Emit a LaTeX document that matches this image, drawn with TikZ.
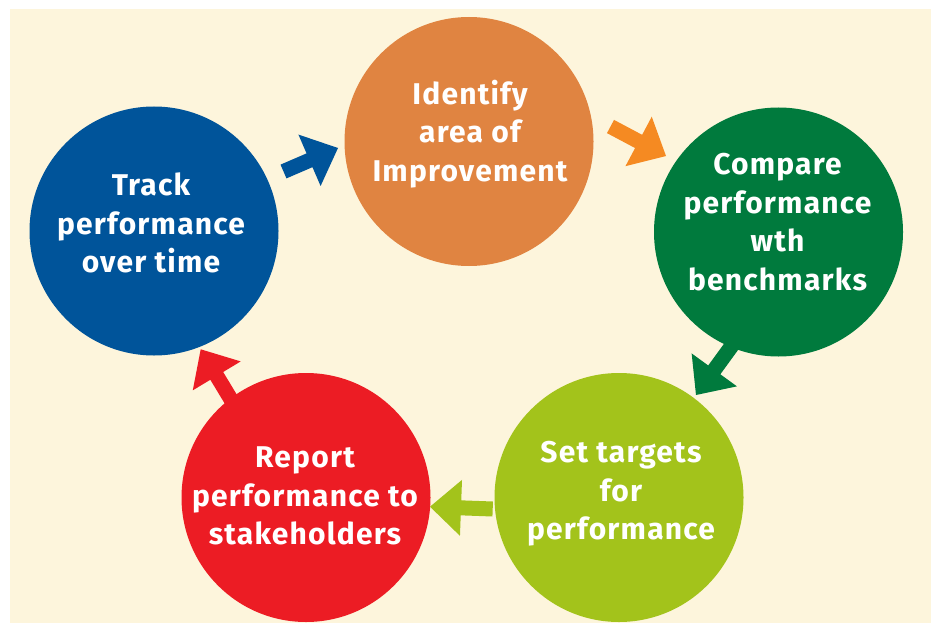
\documentclass[tikz,border=0pt]{standalone}
\usepackage{fontspec}
\newfontfamily\lblfont{Fira Sans}[LetterSpace=4]
\usetikzlibrary{calc}
\definecolor{bgc}{HTML}{FDF5DC}
\definecolor{cblue}{HTML}{00549A}
\definecolor{corange}{HTML}{E08441}
\definecolor{aorange}{HTML}{F58A22}
\definecolor{cgreen}{HTML}{007A3D}
\definecolor{cyg}{HTML}{A3C31B}
\definecolor{cred}{HTML}{EC1C24}
\newcommand\arrW{7.5pt}
\newcommand\arrH{28pt}
\newcommand\blockarr[3]{%
\fill[#1] let \p1=($(#3)-(#2)$), \n1={atan2(\y1,\x1)}, \n2={veclen(\x1,\y1)-31pt} in
 ($(#2)+(\n1-90:\arrW)$) -- ($(#2)+(\n1:\n2)+(\n1-90:\arrW)$) -- ($(#2)+(\n1:\n2)+(\n1-90:\arrH)$) -- (#3) -- ($(#2)+(\n1:\n2)+(\n1+90:\arrH)$) -- ($(#2)+(\n1:\n2)+(\n1+90:\arrW)$) -- ($(#2)+(\n1+90:\arrW)$) -- cycle;}
\tikzset{
  stage/.style={circle, minimum size=249pt, inner sep=0pt, draw=none},
  lbl/.style={text=white, align=center, font=\lblfont\bfseries\fontsize{30}{38.5}\selectfont, inner sep=0pt}
}
\begin{document}
\begin{tikzpicture}[x=1pt,y=-1pt]
\useasboundingbox (0,0) rectangle (931,623);
\fill[bgc] (10,9) rectangle (931,623);
% arrow end points
\coordinate (t1) at (283.5,171.5); \coordinate (h1) at (338,148);
\coordinate (t2) at (610.5,126.5); \coordinate (h2) at (666,156);
\coordinate (t3) at (735,341.4);   \coordinate (h3) at (696,395);
\coordinate (t4) at (492.7,509);   \coordinate (h4) at (430,506.7);
\coordinate (t5) at (232.4,401.8); \coordinate (h5) at (200.7,349.3);
\blockarr{cblue}{t1}{h1}
\blockarr{aorange}{t2}{h2}
\blockarr{cgreen}{t3}{h3}
\blockarr{cyg}{t4}{h4}
\blockarr{cred}{t5}{h5}
% circles
\node[stage, fill=cblue] (track) at (154,231) {};
\node[stage, fill=corange] (ident) at (469,141.5) {};
\node[stage, fill=cgreen] (comp) at (778.5,232) {};
\node[stage, fill=cyg] (settg) at (619,497.5) {};
\node[stage, fill=cred] (report) at (306,497.5) {};
% labels
\node[lbl] (ltrack) at (151,223) {Track\\performance\\over time};
\node[lbl] (lident) at (470,134) {Identify\\area of\\Improvement};
\node[lbl] (lcomp) at (777.5,222) {Compare\\performance\\wth\\benchmarks};
\node[lbl] (lsettg) at (621,494) {Set targets\\for\\performance};
\node[lbl] (lreport) at (305,496) {Report\\performance to\\stakeholders};
\end{tikzpicture}
\end{document}
